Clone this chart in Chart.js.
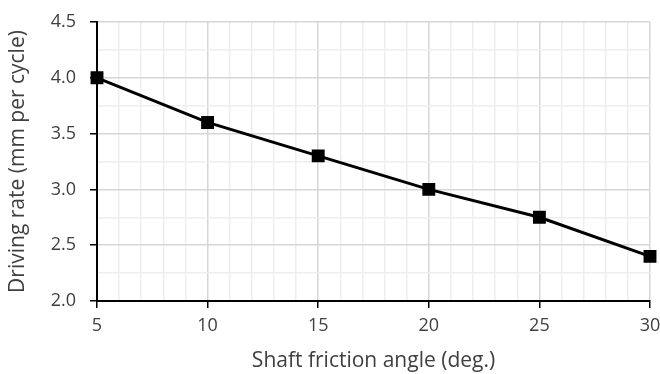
<!DOCTYPE html>
<html>
<head>
<meta charset="utf-8">
<script src="https://cdn.jsdelivr.net/npm/chart.js@4"></script>
<style>
  html, body { margin: 0; padding: 0; background: #fff; }
  #wrap { width: 660px; height: 374px; }
</style>
</head>
<body>
<div id="wrap"><canvas id="myChart"></canvas></div>
<script>
const frictionAngle = [5, 10, 15, 20, 25, 30];
const drivingRate = [4.0, 3.6, 3.3, 3.0, 2.75, 2.4];
const xTitle = "Shaft friction angle (deg.)";
const yTitle = "Driving rate (mm per cycle)";

const points = frictionAngle.map((x, i) => ({ x: x, y: drivingRate[i] }));
const fontFamily = "'Open Sans', sans-serif";
const textColor = "#404040";

Chart.defaults.font.family = fontFamily;
Chart.defaults.color = textColor;

// excel-style: darker major gridlines, faint minor ones
function isMajor(v, step) {
  return Math.abs(v / step - Math.round(v / step)) < 1e-6;
}

const config = {
  type: "scatter",
  data: {
    datasets: [{
      data: points,
      showLine: true,
      borderColor: "#000",
      backgroundColor: "#000",
      borderWidth: 3,
      pointStyle: "rect",
      pointRadius: 7,
      pointHoverRadius: 7,
      clip: false,
    }],
  },
  options: {
    responsive: true,
    maintainAspectRatio: false,
    animation: false,
    layout: { padding: { top: 22, right: 10, left: 0, bottom: 0 } },
    plugins: { legend: { display: false }, tooltip: { enabled: false } },
    scales: {
      x: {
        type: "linear",
        min: 5,
        max: 30,
        afterFit: (s) => { s.height = 73; s.paddingLeft = 0; s.paddingRight = 0; },
        border: { color: "#000", width: 2 },
        grid: {
          color: (c) => isMajor(c.tick.value, 5) ? "#d6d6d6" : "#eeeeee",
          lineWidth: 1.5,
          tickColor: (c) => isMajor(c.tick.value, 5) ? "#000" : "rgba(0,0,0,0)",
          tickLength: 7,
        },
        ticks: {
          stepSize: 1,
          autoSkip: false,
          maxRotation: 0,
          color: textColor,
          font: { family: fontFamily, size: 18 },
          padding: 7,
          callback: (v) => isMajor(v, 5) ? String(v) : "",
        },
        title: {
          display: true,
          text: xTitle,
          color: textColor,
          font: { family: fontFamily, size: 21 },
          padding: { top: 0, bottom: 0 },
        },
      },
      y: {
        min: 2.0,
        max: 4.5,
        afterFit: (s) => { s.width = 97; s.paddingTop = 0; s.paddingBottom = 0; },
        border: { color: "#000", width: 2 },
        grid: {
          color: (c) => isMajor(c.tick.value, 0.5) ? "#d6d6d6" : "#eeeeee",
          lineWidth: 1.5,
          tickColor: (c) => isMajor(c.tick.value, 0.5) ? "#000" : "rgba(0,0,0,0)",
          tickLength: 7,
        },
        ticks: {
          stepSize: 0.25,
          autoSkip: false,
          color: textColor,
          font: { family: fontFamily, size: 18 },
          padding: 14,
          callback: (v) => isMajor(v, 0.5) ? Number(v).toFixed(1) : "",
        },
        title: {
          display: true,
          text: yTitle,
          color: textColor,
          font: { family: fontFamily, size: 21 },
          padding: { top: 5, bottom: 0 },
        },
      },
    },
  },
};

new Chart(document.getElementById("myChart"), config);
</script>
</body>
</html>
